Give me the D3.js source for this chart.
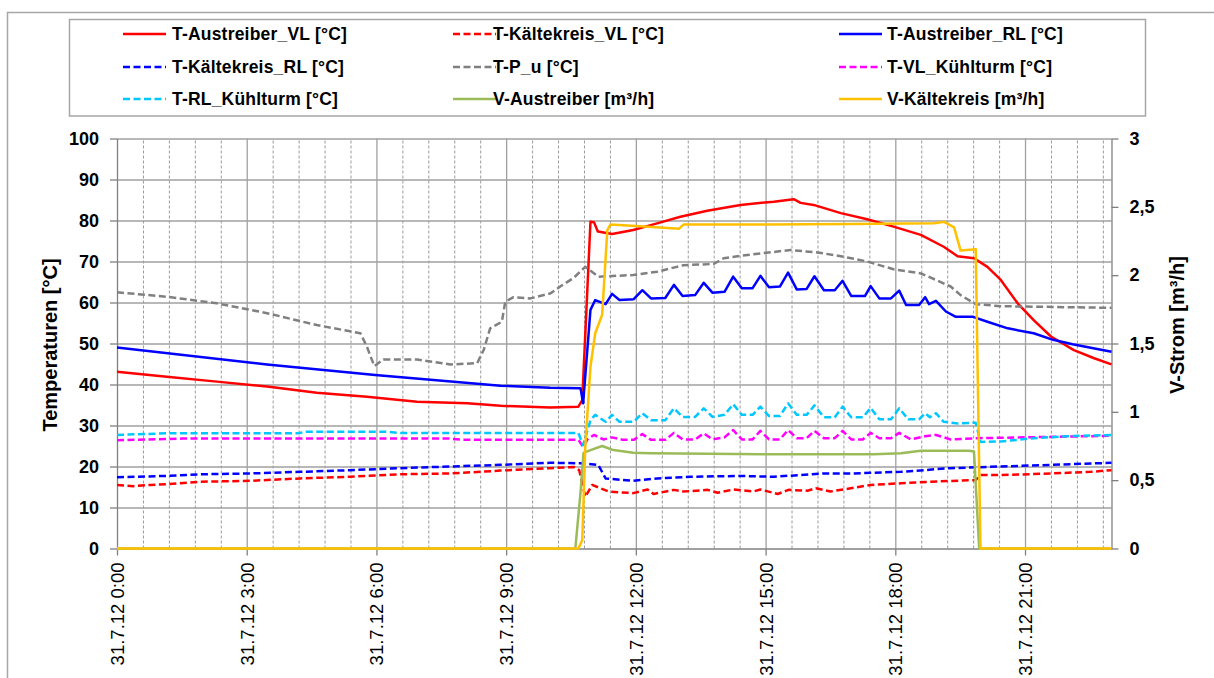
<!DOCTYPE html>
<html>
<head>
<meta charset="utf-8">
<script src="https://cdn.jsdelivr.net/npm/d3@7"></script>
<style>
body{margin:0;background:#fff;}
svg{display:block;font-family:"Liberation Sans",Arial,sans-serif;}
</style>
</head>
<body>
<div id="chart-area"></div>
<script>
var austreiberVL=[[0,43.1],[1.15,41.9],[2.31,40.7],[3.47,39.5],[4.62,38.0],[5.78,37.0],[6.94,35.8],[8.1,35.4],[8.87,34.8],[10.02,34.4],[10.67,34.6],[10.76,36.2],[10.95,79.7],[11.03,79.6],[11.12,77.3],[11.45,76.7],[11.94,77.7],[12.49,79.3],[13.03,80.9],[13.65,82.4],[14.42,83.8],[15.19,84.6],[15.65,85.2],[15.81,84.3],[16.11,83.8],[16.74,81.8],[17.35,80.3],[17.96,78.5],[18.59,76.5],[19.12,73.6],[19.44,71.3],[19.82,70.8],[20.13,68.7],[20.44,65.5],[20.83,59.8],[21.2,55.7],[21.6,51.7],[22.13,48.4],[22.6,46.4],[23,44.9]];
var kaelteVL=[[0,15.5],[0.38,15.2],[0.77,15.5],[1.15,15.7],[1.93,16.3],[3.08,16.5],[4.24,17.1],[5.39,17.5],[6.55,18.1],[7.71,18.3],[8.87,19],[10.02,19.6],[10.56,19.9],[10.69,19.1],[10.83,12.6],[10.99,15.5],[11.18,14.7],[11.37,13.9],[11.94,13.5],[12.27,14.4],[12.41,13.3],[12.88,14.3],[13.1,13.9],[13.66,14.3],[13.89,13.6],[14.26,14.4],[14.72,13.9],[14.88,14.4],[15.28,13.3],[15.53,14.3],[15.97,14.1],[16.16,14.7],[16.5,13.9],[16.97,14.7],[17.43,15.5],[18.13,15.9],[18.82,16.3],[19.86,16.7],[19.97,17.9],[20.44,17.9],[21.6,18.3],[22.52,18.7],[23,19.1]];
var austreiberRL=[[0,49],[3.47,44.9],[5.97,42.3],[8.87,39.7],[10.02,39.2],[10.72,39.1],[10.78,35.4],[10.95,58.2],[11.06,60.6],[11.3,59.6],[11.45,62.1],[11.62,60.6],[11.95,60.8],[12.15,63],[12.35,61],[12.68,61.1],[12.88,64.3],[13.08,61.6],[13.37,61.8],[13.57,64.8],[13.77,62.4],[14.05,62.6],[14.25,66.3],[14.45,63.5],[14.7,63.5],[14.88,66.5],[15.08,63.7],[15.33,63.9],[15.52,67.3],[15.72,63.2],[15.95,63.3],[16.13,66.4],[16.35,63],[16.6,63],[16.78,65.3],[16.98,61.6],[17.3,61.6],[17.43,64],[17.63,61],[17.9,61],[18.09,62.9],[18.25,59.4],[18.55,59.4],[18.69,61.3],[18.78,59.6],[18.94,60.4],[19.17,57.8],[19.4,56.5],[19.8,56.5],[20.13,55.3],[20.6,53.7],[21.2,52.5],[21.65,50.9],[22.1,49.8],[23,48]];
var kaelteRL=[[0,17.4],[1.15,17.7],[1.93,18.1],[3.08,18.3],[4.24,18.7],[5.39,19.1],[6.55,19.6],[7.71,20],[8.87,20.4],[10.02,20.9],[10.72,20.8],[11.13,20.4],[11.3,17.1],[11.94,16.5],[12.49,17.1],[13.26,17.5],[14.42,17.7],[15.19,17.5],[16.34,18.3],[17.0,18.3],[18.13,18.7],[19.28,19.6],[19.86,19.8],[20.44,20],[21.6,20.4],[23,20.9]];
var pU=[[0,62.5],[1.15,61.4],[2.31,59.8],[3.47,57.4],[4.62,54.5],[5.63,52.5],[5.78,49.2],[5.95,44.5],[6.16,46.1],[6.94,46.1],[7.71,44.9],[8.33,45.2],[8.48,48.4],[8.63,53.7],[8.9,55.3],[8.98,60.2],[9.17,61.3],[9.56,61],[10.02,62.2],[10.25,63.9],[10.56,66],[10.83,68.7],[11.13,66.3],[11.94,66.7],[12.49,67.5],[13.1,69.1],[13.8,69.4],[14.03,70.8],[14.58,71.6],[15.58,72.8],[16.2,72.2],[16.74,71.3],[17.35,70],[17.96,68.1],[18.59,67.1],[18.94,65.5],[19.28,63.9],[19.51,61.8],[19.86,59.6],[20.44,59.1],[23,58.7]];
var vlKuehlturm=[[0,26.4],[1.5,26.8],[7.7,26.8],[8.0,26.5],[10.67,26.5],[10.78,24.8],[10.88,26.6],[11.03,27.7],[11.25,26.6],[11.45,27.1],[11.7,26.5],[11.95,26.5],[12.15,27.9],[12.35,26.5],[12.68,26.5],[12.88,28.2],[13.08,26.6],[13.37,26.6],[13.57,28.1],[13.77,26.6],[14.05,27.1],[14.25,28.9],[14.45,26.6],[14.7,26.6],[14.88,28.7],[15.08,26.6],[15.33,26.6],[15.52,28.9],[15.72,26.9],[15.95,26.9],[16.13,28.7],[16.35,26.9],[16.6,26.9],[16.78,28.7],[16.98,26.6],[17.25,26.6],[17.43,28.2],[17.63,26.9],[17.9,26.9],[18.09,28.2],[18.36,26.6],[18.69,27.4],[18.94,27.7],[19.28,26.6],[19.86,26.9],[20.44,27],[23,27.5]];
var rlKuehlturm=[[0,27.7],[1.15,28.1],[4.2,28.1],[4.35,28.5],[6.2,28.5],[6.5,28.2],[10.67,28.2],[10.78,25.2],[10.95,31.3],[11.06,32.6],[11.3,30.9],[11.45,32.6],[11.62,30.9],[11.95,30.9],[12.15,33],[12.35,31.3],[12.68,31.3],[12.88,34.2],[13.08,32.1],[13.37,32.1],[13.57,34.2],[13.77,32.1],[14.05,32.6],[14.25,35.2],[14.45,32.6],[14.7,32.6],[14.88,34.6],[15.08,32.3],[15.33,32.3],[15.52,35.4],[15.72,32.6],[15.95,32.6],[16.13,34.9],[16.35,32],[16.6,32],[16.78,34.6],[16.98,32],[17.25,32],[17.43,34.3],[17.63,31.5],[17.9,31.5],[18.09,34.2],[18.3,31.5],[18.55,31.5],[18.69,33],[18.8,32],[18.94,33],[19.12,30.9],[19.45,30.5],[19.86,30.7],[19.97,26],[20.44,26.1],[21.2,26.9],[22,27.4],[23,27.7]];
var vAustreiber=[[0,0],[10.6,0],[10.72,0.41],[10.79,0.70],[10.95,0.72],[11.22,0.75],[11.48,0.72],[11.94,0.70],[12.34,0.697],[15,0.69],[17.5,0.69],[18.13,0.697],[18.59,0.716],[19.7,0.716],[19.82,0.71],[19.94,0],[23,0]];
var vKaeltekreis=[[0,0],[10.67,0],[10.76,0.06],[10.83,0.745],[10.95,1.33],[11.06,1.575],[11.22,1.71],[11.34,2.33],[11.41,2.37],[12,2.36],[13.0,2.34],[13.1,2.37],[15,2.37],[17,2.375],[18.9,2.38],[19.13,2.39],[19.36,2.35],[19.51,2.18],[19.86,2.19],[19.97,0],[23,0]];

var seriesNames=["T-Austreiber_VL [°C]","T-Kältekreis_VL [°C]","T-Austreiber_RL [°C]","T-Kältekreis_RL [°C]","T-P_u [°C]","T-VL_Kühlturm [°C]","T-RL_Kühlturm [°C]","V-Austreiber [m³/h]","V-Kältekreis [m³/h]"];
var seriesData=[austreiberVL,kaelteVL,austreiberRL,kaelteRL,pU,vlKuehlturm,rlKuehlturm,vAustreiber,vKaeltekreis];
var seriesColors=["#ff0000","#ff0000","#0000ff","#0000ff","#808080","#ff00ff","#00c8ff","#9bbb59","#ffc000"];
var seriesDashed=[false,true,false,true,true,true,true,false,false];
var seriesRight=[false,false,false,false,false,false,false,true,true];

var majorHours=[0,3,6,9,12,15,18,21];
var tempTicks=[0,10,20,30,40,50,60,70,80,90,100];
var flowTicks=[0,0.5,1,1.5,2,2.5,3];

var width=1214, height=678;
var margin={left:117,right:102.5,top:138.5,bottom:129.5};
var w=width-margin.left-margin.right;
var h=height-margin.top-margin.bottom;

var svg=d3.select("#chart-area").append("svg")
    .attr("width",width)
    .attr("height",height);

svg.append("rect").attr("width",width).attr("height",height).attr("fill","#fff");

// Rahmen
svg.append("rect")
    .attr("x",7.5).attr("y",12.5)
    .attr("width",1300).attr("height",800)
    .attr("fill","none").attr("stroke","#a6a6a6").attr("stroke-width",1.5);

// Legende
svg.append("rect")
    .attr("x",69.5).attr("y",19.5)
    .attr("width",1076).attr("height",96.5)
    .attr("fill","#fff").attr("stroke","#a6a6a6").attr("stroke-width",1.5);

var legX=[123,453,839];
var legY=[34,67,99];
var leg=svg.selectAll(".legend")
    .data(seriesNames)
    .enter().append("g")
    .attr("class","legend")
    .attr("transform",(d,i)=>"translate("+legX[i%3]+","+legY[Math.floor(i/3)]+")");
leg.append("line")
    .attr("x1",0).attr("x2",43)
    .attr("stroke",(d,i)=>seriesColors[i])
    .attr("stroke-width",2.5)
    .attr("stroke-dasharray",(d,i)=>seriesDashed[i]?"7,3.5":null);
leg.append("text")
    .attr("x",(d,i)=>[49,40,48][i%3])
    .attr("dy","0.35em")
    .attr("font-size","17.5px")
    .attr("font-weight","bold")
    .attr("letter-spacing","0.2px")
    .text(d=>d);

var g=svg.append("g")
    .attr("transform","translate("+margin.left+","+margin.top+")");

var x=d3.scaleLinear().domain([0,23]).range([0,w]);
var y=d3.scaleLinear().domain([0,100]).range([h,0]);
var y2=d3.scaleLinear().domain([0,3]).range([h,0]);

// Gitter
var minorHours=d3.range(1,39).filter(i=>i%5!==0).map(i=>i*0.6);
g.append("g")
    .attr("class","grid minor")
    .attr("transform","translate(0,"+h+")")
    .call(d3.axisBottom(x).tickValues(minorHours).tickSize(-h).tickFormat(""))
    .call(s=>s.select(".domain").remove())
    .selectAll("line")
    .attr("stroke","#9a9a9a").attr("stroke-width",1).attr("stroke-dasharray","3,2");

g.append("g")
    .attr("class","grid major")
    .attr("transform","translate(0,"+h+")")
    .call(d3.axisBottom(x).tickValues(majorHours.slice(1)).tickSize(-h).tickFormat(""))
    .call(s=>s.select(".domain").remove())
    .selectAll("line")
    .attr("stroke","#a0a0a0").attr("stroke-width",1.3);

g.append("g")
    .attr("class","grid horizontal")
    .call(d3.axisLeft(y).tickValues(tempTicks.slice(1)).tickSize(-w).tickFormat(""))
    .call(s=>s.select(".domain").remove())
    .selectAll("line")
    .attr("stroke","#a0a0a0").attr("stroke-width",1.3);

// Achsen
var bottomAxis=d3.axisBottom(x)
    .tickValues(majorHours)
    .tickSize(7).tickSizeOuter(0)
    .tickFormat(d=>"31.7.12 "+d+":00");
var xa=g.append("g")
    .attr("class","bottom axis")
    .attr("transform","translate(0,"+h+")")
    .call(bottomAxis);
xa.selectAll("text")
    .attr("transform","rotate(-90)")
    .attr("x",-14).attr("y",0)
    .attr("dy","0.35em")
    .attr("text-anchor","end")
    .attr("font-size","18.5px")
    .attr("font-family","Liberation Sans, Arial, sans-serif")
    .attr("fill","#000");

var leftAxis=d3.axisLeft(y)
    .tickValues(tempTicks)
    .tickSize(7).tickSizeOuter(0).tickPadding(11);
var ya=g.append("g").attr("class","left axis").call(leftAxis);
ya.selectAll("text")
    .attr("font-size","18px").attr("font-weight","bold")
    .attr("font-family","Liberation Sans, Arial, sans-serif")
    .attr("fill","#000");

var rightAxis=d3.axisRight(y2)
    .tickValues(flowTicks)
    .tickSize(7).tickSizeOuter(0).tickPadding(11)
    .tickFormat(d=>String(d).replace(".",","));
var y2a=g.append("g").attr("class","right axis")
    .attr("transform","translate("+w+",0)")
    .call(rightAxis);
y2a.selectAll("text")
    .attr("font-size","18px").attr("font-weight","bold")
    .attr("font-family","Liberation Sans, Arial, sans-serif")
    .attr("fill","#000");

g.selectAll(".axis path, .axis line")
    .attr("stroke","#808080").attr("stroke-width",1.3);

// Linien
var line=d3.line().x(d=>x(d[0])).y(d=>y(d[1]));
var line2=d3.line().x(d=>x(d[0])).y(d=>y2(d[1]));

g.selectAll(".series")
    .data(seriesData)
    .enter().append("path")
    .attr("class","series")
    .attr("d",(d,i)=>seriesRight[i]?line2(d):line(d))
    .attr("fill","none")
    .attr("stroke",(d,i)=>seriesColors[i])
    .attr("stroke-width",2.5)
    .attr("stroke-linejoin","round")
    .attr("stroke-dasharray",(d,i)=>seriesDashed[i]?"7,3.5":null);

// Achsentitel
g.append("text")
    .attr("class","y axis-label")
    .attr("x",-(345-margin.top))
    .attr("y",50-margin.left)
    .attr("dy","0.35em")
    .attr("font-size","20px")
    .attr("font-weight","bold")
    .attr("text-anchor","middle")
    .attr("transform","rotate(-90)")
    .text("Temperaturen [°C]");

g.append("text")
    .attr("class","y2 axis-label")
    .attr("x",-(325-margin.top))
    .attr("y",1177-margin.left)
    .attr("dy","0.35em")
    .attr("font-size","20px")
    .attr("font-weight","bold")
    .attr("text-anchor","middle")
    .attr("transform","rotate(-90)")
    .text("V-Strom [m³/h]");
</script>
</body>
</html>
